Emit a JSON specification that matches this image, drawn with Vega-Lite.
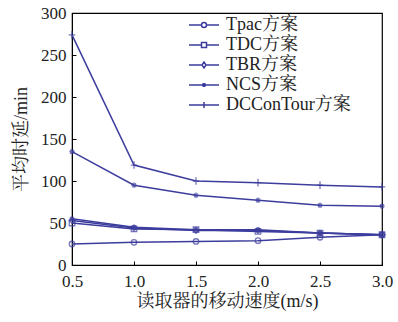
{
  "$schema": "https://vega.github.io/schema/vega-lite/v6.json",
  "autosize": "none",
  "width": 310,
  "height": 252,
  "padding": {"left": 72, "top": 13, "right": 16, "bottom": 57},
  "background": "white",
  "config": {
    "view": {"stroke": "black", "strokeWidth": 1.2},
    "font": "Liberation Serif",
    "axis": {
      "grid": false,
      "domainColor": "black",
      "tickColor": "black",
      "labelFont": "Liberation Serif",
      "labelFontSize": 17,
      "labelColor": "#222",
      "labelFlush": false,
      "titleFont": "Liberation Serif, Noto Serif CJK SC, Noto Sans CJK SC",
      "titleFontSize": 18,
      "titleFontWeight": "normal",
      "titleColor": "#222"
    }
  },
  "data": {
    "values": [
      {"speed": 0.5, "series": "Tpac方案", "delay": 25},
      {"speed": 1.0, "series": "Tpac方案", "delay": 27},
      {"speed": 1.5, "series": "Tpac方案", "delay": 28},
      {"speed": 2.0, "series": "Tpac方案", "delay": 29},
      {"speed": 2.5, "series": "Tpac方案", "delay": 33},
      {"speed": 3.0, "series": "Tpac方案", "delay": 36},
      {"speed": 0.5, "series": "TDC方案", "delay": 50},
      {"speed": 1.0, "series": "TDC方案", "delay": 43},
      {"speed": 1.5, "series": "TDC方案", "delay": 42},
      {"speed": 2.0, "series": "TDC方案", "delay": 40},
      {"speed": 2.5, "series": "TDC方案", "delay": 38},
      {"speed": 3.0, "series": "TDC方案", "delay": 36},
      {"speed": 0.5, "series": "TBR方案", "delay": 53},
      {"speed": 1.0, "series": "TBR方案", "delay": 44},
      {"speed": 1.5, "series": "TBR方案", "delay": 41},
      {"speed": 2.0, "series": "TBR方案", "delay": 41},
      {"speed": 2.5, "series": "TBR方案", "delay": 38},
      {"speed": 3.0, "series": "TBR方案", "delay": 36},
      {"speed": 0.5, "series": "NCS方案", "delay": 55},
      {"speed": 1.0, "series": "NCS方案", "delay": 45},
      {"speed": 1.5, "series": "NCS方案", "delay": 42},
      {"speed": 2.0, "series": "NCS方案", "delay": 42},
      {"speed": 2.5, "series": "NCS方案", "delay": 38},
      {"speed": 3.0, "series": "NCS方案", "delay": 36},
      {"speed": 0.5, "series": "NCS2", "delay": 135},
      {"speed": 1.0, "series": "NCS2", "delay": 95},
      {"speed": 1.5, "series": "NCS2", "delay": 83},
      {"speed": 2.0, "series": "NCS2", "delay": 77},
      {"speed": 2.5, "series": "NCS2", "delay": 71},
      {"speed": 3.0, "series": "NCS2", "delay": 70},
      {"speed": 0.5, "series": "DCConTour方案", "delay": 274},
      {"speed": 1.0, "series": "DCConTour方案", "delay": 119},
      {"speed": 1.5, "series": "DCConTour方案", "delay": 100},
      {"speed": 2.0, "series": "DCConTour方案", "delay": 98},
      {"speed": 2.5, "series": "DCConTour方案", "delay": 95},
      {"speed": 3.0, "series": "DCConTour方案", "delay": 93}
    ]
  },
  "encoding": {
    "x": {
      "field": "speed", "type": "quantitative",
      "scale": {"domain": [0.5, 3.0], "nice": false, "zero": false},
      "axis": {"values": [0.5, 1.0, 1.5, 2.0, 2.5, 3.0], "format": ".1f", "tickSize": -4, "labelPadding": 12, "title": "读取器的移动速度(m/s)", "titlePadding": 3}
    },
    "y": {
      "field": "delay", "type": "quantitative",
      "scale": {"domain": [0, 300], "nice": false},
      "axis": {"values": [0, 50, 100, 150, 200, 250, 300], "tickSize": -4, "labelPadding": 10, "title": "平均时延/min", "titlePadding": 10}
    }
  },
  "layer": [
    {
      "mark": {"type": "line", "stroke": "#3d3d9e", "strokeWidth": 1.5},
      "encoding": {"detail": {"field": "series"}}
    },
    {
      "mark": {"type": "point", "filled": false, "stroke": "#3d3d9e", "strokeWidth": 1.3, "size": 30},
      "encoding": {
        "shape": {
          "field": "series", "type": "nominal",
          "scale": {
            "domain": ["Tpac方案", "TDC方案", "TBR方案", "NCS方案", "DCConTour方案", "NCS2"],
            "range": ["circle", "square", "diamond", "M-1,0H1M0,-1V1M-0.7,-0.7L0.7,0.7M-0.7,0.7L0.7,-0.7", "M-1.2,0H1.2M0,-1.4V1.4", "M-1,0H1M0,-1V1M-0.7,-0.7L0.7,0.7M-0.7,0.7L0.7,-0.7"]
          },
          "legend": null
        }
      }
    },
    {
      "transform": [{"filter": "datum.series != 'NCS2'"}],
      "mark": {"type": "point", "filled": false, "stroke": "#3d3d9e", "opacity": 0, "size": 30},
      "encoding": {
        "shape": {
          "field": "series", "type": "nominal",
          "scale": {
            "domain": ["Tpac方案", "TDC方案", "TBR方案", "NCS方案", "DCConTour方案"],
            "range": [
              "M-1.5,0H-0.25M0.25,0H1.5M-0.25,0A0.25,0.25,0,1,0,0.25,0A0.25,0.25,0,1,0,-0.25,0",
              "M-1.5,0H-0.25M0.25,0H1.5M-0.25,-0.25H0.25V0.25H-0.25Z",
              "M-1.5,0H-0.2M0.2,0H1.5M0,-0.3L0.2,0L0,0.3L-0.2,0Z",
              "M-1.5,0H1.5M-0.15,-0.15L0.15,0.15M-0.15,0.15L0.15,-0.15M0,-0.2V0.2",
              "M-1.5,0H1.5M0,-0.3V0.3"
            ]
          },
          "legend": {
            "title": null,
            "orient": "none",
            "legendX": 121,
            "legendY": 1,
            "padding": 0,
            "rowPadding": 0,
            "symbolSize": 400,
            "labelOffset": 11,
            "labelFont": "Liberation Serif, Noto Serif CJK SC, Noto Sans CJK SC",
            "labelFontSize": 18,
            "labelColor": "#222",
            "labelLimit": 300,
            "encode": {
              "symbols": {
                "update": {
                  "opacity": {"value": 1},
                  "stroke": {"value": "#3d3d9e"},
                  "fill": {"value": "transparent"},
                  "strokeWidth": {"value": 1.5}
                }
              }
            }
          }
        }
      }
    }
  ],
  "resolve": {"scale": {"shape": "independent"}}
}
